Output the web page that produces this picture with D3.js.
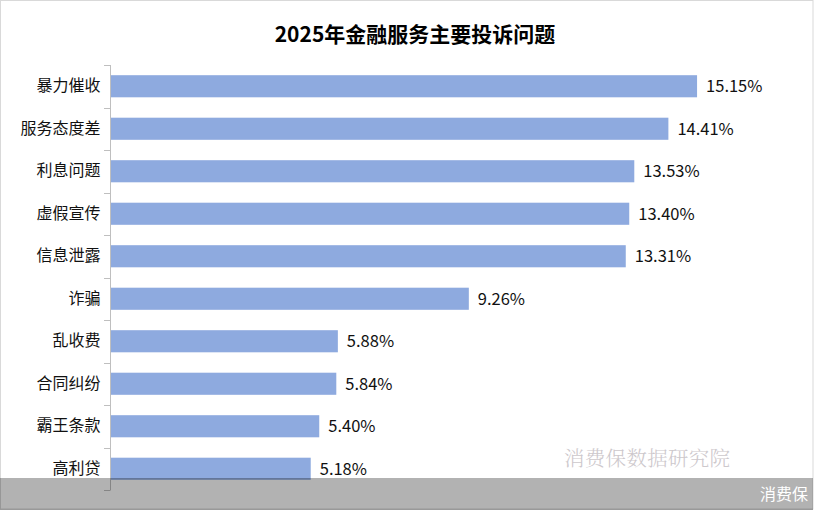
<!DOCTYPE html>
<html><head><meta charset="utf-8">
<script src="https://cdn.jsdelivr.net/npm/d3@7"></script>
<style>
html,body{margin:0;padding:0;background:#fff;}
svg{display:block;font-family:"Noto Sans CJK SC","Noto Sans",sans-serif;}
</style></head>
<body>
<svg id="chart" width="816" height="511"></svg>
<script>
const title = "2025年金融服务主要投诉问题";
const categories = ["暴力催收","服务态度差","利息问题","虚假宣传","信息泄露","诈骗","乱收费","合同纠纷","霸王条款","高利贷"];
const values = [15.15,14.41,13.53,13.40,13.31,9.26,5.88,5.84,5.40,5.18];
const watermark = "消费保数据研究院";
const footer = "消费保";

const svg = d3.select("#chart");
const x = d3.scaleLinear().domain([0,16]).range([110,110+16*38.75]);
const y = d3.scaleBand().domain(categories).range([65,490]).paddingInner(0.48).paddingOuter(0.24);

// border
svg.append("rect").attr("x",0.5).attr("y",0.5).attr("width",812.5).attr("height",508.5)
  .attr("fill","#fff").attr("stroke","#d9d9d9");

// title
svg.append("text").attr("x",415).attr("y",42).attr("text-anchor","middle")
  .attr("font-size",21).attr("font-weight","bold").attr("fill","#000").text(title);

// bars
svg.append("g").selectAll("rect").data(categories).join("rect")
  .attr("x",x(0)+1).attr("y",d=>y(d)).attr("width",(d,i)=>x(values[i])-x(0)-1)
  .attr("height",y.bandwidth()).attr("fill","#8eaadf");

// value labels
svg.append("g").selectAll("text").data(categories).join("text")
  .attr("x",(d,i)=>x(values[i])+9).attr("y",d=>y(d)+y.bandwidth()/2)
  .attr("dy","0.36em").attr("font-size",16.5).attr("fill","#111")
  .text((d,i)=>values[i].toFixed(2)+"%");

// axis
const axis = d3.axisLeft(y).tickSize(0).tickPadding(10);
const ag = svg.append("g").attr("transform","translate(110.5,0)").call(axis);
ag.select(".domain").attr("stroke","#bfbfbf").attr("d","M0,65V490");
ag.selectAll("text").attr("font-size",16).attr("fill","#111")
  .attr("font-family","\"Noto Sans CJK SC\",sans-serif");
// boundary ticks
const step = y.step();
const bounds = categories.map(d=>y(d)-step*y.paddingInner()/2).concat([490]);
svg.append("g").selectAll("line").data(bounds).join("line")
  .attr("x1",104).attr("x2",110.5).attr("y1",d=>Math.round(d)+0.5).attr("y2",d=>Math.round(d)+0.5)
  .attr("stroke","#bfbfbf");

// watermark
svg.append("text").attr("x",564).attr("y",466).attr("font-size",20.5)
  .attr("fill","#cdc8cc").attr("letter-spacing","0.3")
  .attr("font-family","\"Noto Serif CJK SC\",\"Noto Sans CJK SC\",serif").attr("font-weight",300)
  .text(watermark);

// footer band
svg.append("rect").attr("x",0).attr("y",478).attr("width",813).attr("height",31)
  .attr("fill","rgba(0,0,0,0.3)");
svg.append("line").attr("x1",0).attr("x2",813).attr("y1",509.5).attr("y2",509.5).attr("stroke","#999");
svg.append("text").attr("x",808).attr("y",500).attr("text-anchor","end")
  .attr("font-size",16).attr("fill","#fff").text(footer);
</script>
</body></html>
